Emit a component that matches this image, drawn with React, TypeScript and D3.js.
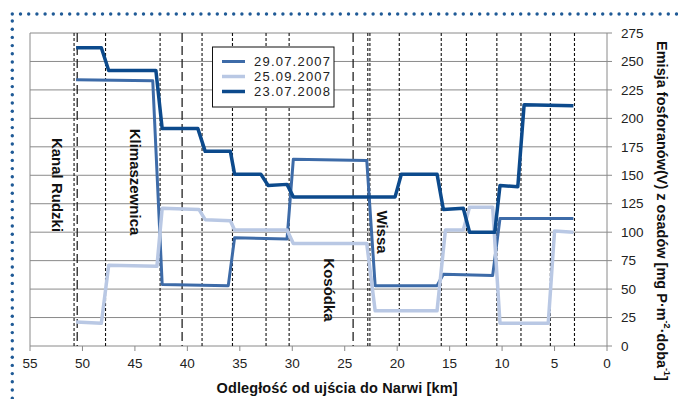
import React from "react";
import * as d3 from "d3";

// distance from the Narew mouth [km] and emission values
const series2907: [number, number][] = [
  [50.6, 234], [43.3, 233], [42.4, 54], [36.1, 53], [35.5, 95], [30.5, 94],
  [29.9, 164], [22.9, 163], [22.1, 53], [16.2, 53], [15.6, 63], [10.9, 62],
  [10.2, 112], [3.2, 112],
];
const series2509: [number, number][] = [
  [50.6, 21], [48.2, 20], [47.5, 71], [42.9, 70], [42.4, 121], [38.9, 120],
  [38.3, 111], [35.9, 110], [35.5, 102], [30.5, 102], [29.9, 90], [22.9, 90],
  [22.1, 31], [16.2, 31], [15.4, 102], [13.7, 102], [13.1, 122], [10.9, 122],
  [10.2, 20], [5.6, 20], [5.0, 101], [3.2, 100],
];
const series2308: [number, number][] = [
  [50.6, 262], [48.2, 262], [47.5, 242], [43.0, 242], [42.4, 191], [39.0, 191],
  [38.3, 171], [35.9, 171], [35.5, 151], [33.0, 151], [32.3, 141], [30.5, 142],
  [29.9, 131], [20.2, 131], [19.6, 151], [16.2, 151], [15.6, 120], [13.7, 121],
  [13.1, 100], [10.7, 100], [10.2, 141], [8.5, 140], [7.9, 212], [3.2, 211],
];

const seriesNames = ["29.07.2007", "25.09.2007", "23.07.2008"];
const seriesColors = ["#3d6ba8", "#b9c8e4", "#0c4a8c"];
const seriesWidths = [3, 3.5, 3.5];

const shortDashKm = [50.8, 47.8, 42.6, 38.6, 35.7, 32.5, 30.3, 22.8, 22.6, 19.8, 15.8, 13.4, 10.5, 8.2, 5.4, 3.1];
const longDashKm = [50.5, 40.5, 24.2];

const places = [
  { name: "Kanal Rudzki", x: 57, y: 185 },
  { name: "Klimaszewnica", x: 135, y: 182 },
  { name: "Kosódka", x: 329, y: 290 },
  { name: "Wissa", x: 382, y: 232 },
];

const xTicks = d3.range(0, 56, 5);
const yTicks = d3.range(0, 276, 25);

const W = 678;
const H = 399;
const margin = { top: 33, right: 71, bottom: 53, left: 30 };
const font = "'Liberation Sans', Arial, sans-serif";

export default function App() {
  const x = d3.scaleLinear().domain([55, 0]).range([margin.left, W - margin.right]);
  const y = d3.scaleLinear().domain([0, 275]).range([H - margin.bottom, margin.top]);
  const line = d3
    .line<[number, number]>()
    .x((d) => x(d[0]))
    .y((d) => y(d[1]));

  const allSeries = [series2907, series2509, series2308];
  const x0 = x(55);
  const x1 = x(0);
  const yb = y(0);
  const yt = y(275);

  const topDots = d3.range(12.3, W, 8.2);
  const leftDots = d3.range(21, H, 8.2);

  return (
    <svg
      width={W}
      height={H}
      style={{ position: "absolute", left: 0, top: 0, background: "#fff" }}
      fontFamily={font}
    >
      {/* dotted frame */}
      {topDots.map((cx, i) => (
        <circle key={"t" + i} cx={cx} cy={14} r={1.7} fill="#1f5a96" />
      ))}
      {leftDots.map((cy, i) => (
        <circle key={"l" + i} cx={12.3} cy={cy} r={1.7} fill="#1f5a96" />
      ))}

      {/* horizontal grid */}
      {yTicks.map((t) => (
        <line key={"g" + t} x1={x0} x2={x1} y1={y(t)} y2={y(t)} stroke="#8a8a8a" strokeWidth={1} />
      ))}
      <line x1={x0} x2={x0} y1={yt} y2={yb} stroke="#8a8a8a" />
      <line x1={x1} x2={x1} y1={yt} y2={yb} stroke="#8a8a8a" />

      {/* vertical dashed markers */}
      {shortDashKm.map((k) => (
        <line key={"s" + k} x1={x(k)} x2={x(k)} y1={yt} y2={yb} stroke="#111" strokeWidth={1.1} strokeDasharray="3,2" />
      ))}
      {longDashKm.map((k) => (
        <line key={"d" + k} x1={x(k)} x2={x(k)} y1={yt} y2={yb} stroke="#222" strokeWidth={1.3} strokeDasharray="9,4" />
      ))}

      {/* x axis ticks */}
      {xTicks.map((t) => (
        <g key={"x" + t}>
          <line x1={x(t)} x2={x(t)} y1={yb} y2={yb + 5} stroke="#8a8a8a" />
          <text x={x(t)} y={368} textAnchor="middle" fontSize={13.5} fill="#222">
            {t}
          </text>
        </g>
      ))}

      {/* y axis ticks (right) */}
      {yTicks.map((t) => (
        <g key={"y" + t}>
          <line x1={x1} x2={x1 + 5} y1={y(t)} y2={y(t)} stroke="#8a8a8a" />
          <text x={621} y={y(t)} dy="0.35em" textAnchor="start" fontSize={13.5} fill="#222">
            {t}
          </text>
        </g>
      ))}

      {/* place labels */}
      {places.map((p) => (
        <text
          key={p.name}
          transform={`translate(${p.x},${p.y}) rotate(90)`}
          textAnchor="middle"
          dominantBaseline="central"
          fontSize={15}
          fontWeight="bold"
          fill="#111"
        >
          {p.name}
        </text>
      ))}

      {/* series */}
      {allSeries.map((s, i) => (
        <path
          key={seriesNames[i]}
          d={line(s) ?? ""}
          fill="none"
          stroke={seriesColors[i]}
          strokeWidth={seriesWidths[i]}
          strokeLinejoin="round"
        />
      ))}

      {/* legend */}
      <rect x={212.5} y={47} width={121.5} height={60} fill="#fff" stroke="#111" strokeWidth={1} />
      {seriesNames.map((n, i) => {
        const ly = 61.5 + i * 15;
        return (
          <g key={"lg" + n}>
            <line x1={222} x2={245} y1={ly} y2={ly} stroke={seriesColors[i]} strokeWidth={seriesWidths[i]} />
            <text x={254} y={ly} dy="0.36em" fontSize={13} textLength={76} fill="#222">
              {n}
            </text>
          </g>
        );
      })}

      {/* axis titles */}
      <text x={337} y={393} textAnchor="middle" fontSize={14.5} fontWeight="bold" fill="#111" textLength={241}>
        Odległość od ujścia do Narwi [km]
      </text>
      <text
        transform="translate(662,211) rotate(90)"
        textAnchor="middle"
        dominantBaseline="central"
        fontSize={14.5}
        fontWeight="bold"
        fill="#111"
      >
        Emisja fosforanów(V) z osadów [mg P·m
        <tspan fontSize={9} dy={-5}>-2</tspan>
        <tspan dy={5}>·doba</tspan>
        <tspan fontSize={9} dy={-5}>-1</tspan>
        <tspan dy={5}>]</tspan>
      </text>
    </svg>
  );
}
